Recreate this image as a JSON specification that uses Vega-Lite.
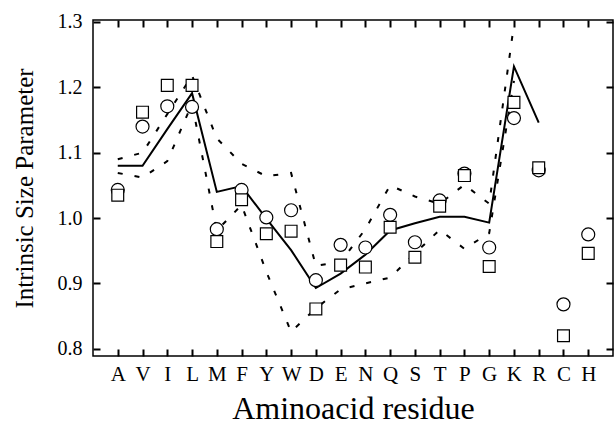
{
  "$schema": "https://vega.github.io/schema/vega-lite/v6.json",
  "width": 520,
  "height": 336,
  "autosize": {"type": "none"},
  "padding": {"left": 93, "top": 20, "right": 1, "bottom": 68},
  "background": "white",
  "config": {
    "view": {"stroke": "black", "strokeWidth": 1.5},
    "font": "Liberation Serif"
  },
  "data": {
    "values": [
      {"res": "A", "solid": 1.080, "upper": 1.090, "lower": 1.069, "circ": 1.043, "sq": 1.035},
      {"res": "V", "solid": 1.080, "upper": 1.100, "lower": 1.062, "circ": 1.140, "sq": 1.162},
      {"res": "I", "solid": 1.136, "upper": 1.159, "lower": 1.087, "circ": 1.171, "sq": 1.203},
      {"res": "L", "solid": 1.191, "upper": 1.218, "lower": 1.175, "circ": 1.170, "sq": 1.203},
      {"res": "M", "solid": 1.040, "upper": 1.122, "lower": 0.981, "circ": 0.983, "sq": 0.964},
      {"res": "F", "solid": 1.049, "upper": 1.083, "lower": 1.020, "circ": 1.043, "sq": 1.028},
      {"res": "Y", "solid": 0.999, "upper": 1.064, "lower": 0.918, "circ": 1.001, "sq": 0.976},
      {"res": "W", "solid": 0.951, "upper": 1.069, "lower": 0.826, "circ": 1.012, "sq": 0.980},
      {"res": "D", "solid": 0.893, "upper": 0.927, "lower": 0.862, "circ": 0.905, "sq": 0.861},
      {"res": "E", "solid": 0.915, "upper": 0.933, "lower": 0.891, "circ": 0.959, "sq": 0.928},
      {"res": "N", "solid": 0.944, "upper": 0.983, "lower": 0.900, "circ": 0.955, "sq": 0.925},
      {"res": "Q", "solid": 0.981, "upper": 1.050, "lower": 0.909, "circ": 1.005, "sq": 0.986},
      {"res": "S", "solid": 0.992, "upper": 1.033, "lower": 0.946, "circ": 0.963, "sq": 0.940},
      {"res": "T", "solid": 1.002, "upper": 1.022, "lower": 0.982, "circ": 1.027, "sq": 1.018},
      {"res": "P", "solid": 1.002, "upper": 1.051, "lower": 0.953, "circ": 1.068, "sq": 1.065},
      {"res": "G", "solid": 0.993, "upper": 1.022, "lower": 0.977, "circ": 0.955, "sq": 0.926},
      {"res": "K", "solid": 1.232, "upper": 1.296, "lower": 1.210, "circ": 1.153, "sq": 1.177},
      {"res": "R", "solid": 1.146, "upper": null, "lower": null, "circ": 1.073, "sq": 1.077},
      {"res": "C", "solid": null, "upper": null, "lower": null, "circ": 0.868, "sq": 0.820},
      {"res": "H", "solid": null, "upper": null, "lower": null, "circ": 0.975, "sq": 0.946}
    ]
  },
  "layer": [
    {
      "mark": {"type": "line", "color": "black", "strokeWidth": 2},
      "encoding": {
        "x": {"field": "res", "type": "nominal", "sort": null,
          "scale": {"type": "point", "padding": 1},
          "axis": {"orient": "bottom", "title": "Aminoacid residue", "labelAngle": 0, "labelFontSize": 21, "titleFontSize": 32, "labelPadding": 7, "titleY": 62, "titleBaseline": "alphabetic", "labelFont": "Liberation Serif", "titleFont": "Liberation Serif", "titleFontWeight": "normal", "labelColor": "black", "titleColor": "black", "domain": false, "ticks": false, "grid": true, "gridColor": "#000000", "gridOpacity": 1, "gridWidth": 2, "gridDash": [7, 322, 7, 100]}},
        "y": {"field": "solid", "type": "quantitative",
          "scale": {"domain": [0.789, 1.303], "nice": false, "zero": false},
          "axis": {"orient": "left", "title": "Intrinsic Size Parameter", "values": [0.8, 0.9, 1.0, 1.1, 1.2, 1.3], "format": ".1f", "labelFontSize": 20, "titleFontSize": 25, "labelPadding": 11, "titleX": -61, "titleY": 168, "titleBaseline": "alphabetic", "titleAlign": "center", "titleAngle": -90, "labelFont": "Liberation Serif", "titleFont": "Liberation Serif", "titleFontWeight": "normal", "labelColor": "black", "titleColor": "black", "domain": false, "ticks": false, "grid": true, "gridColor": "#000000", "gridOpacity": 1, "gridWidth": 2, "gridDash": [7, 506, 7, 100]}}
      }
    },
    {
      "mark": {"type": "line", "color": "black", "strokeWidth": 2, "strokeDash": [5, 12]},
      "encoding": {
        "x": {"field": "res", "type": "nominal", "sort": null},
        "y": {"field": "upper", "type": "quantitative"}
      }
    },
    {
      "mark": {"type": "line", "color": "black", "strokeWidth": 2, "strokeDash": [5, 12]},
      "encoding": {
        "x": {"field": "res", "type": "nominal", "sort": null},
        "y": {"field": "lower", "type": "quantitative"}
      }
    },
    {
      "mark": {"type": "point", "shape": "circle", "filled": false, "fill": "white", "fillOpacity": 1, "stroke": "black", "strokeWidth": 1.2, "size": 169, "opacity": 1},
      "encoding": {
        "x": {"field": "res", "type": "nominal", "sort": null},
        "y": {"field": "circ", "type": "quantitative"}
      }
    },
    {
      "mark": {"type": "point", "shape": "square", "filled": false, "fill": "white", "fillOpacity": 1, "stroke": "black", "strokeWidth": 1.2, "size": 140, "opacity": 1},
      "encoding": {
        "x": {"field": "res", "type": "nominal", "sort": null},
        "y": {"field": "sq", "type": "quantitative"}
      }
    }
  ]
}
